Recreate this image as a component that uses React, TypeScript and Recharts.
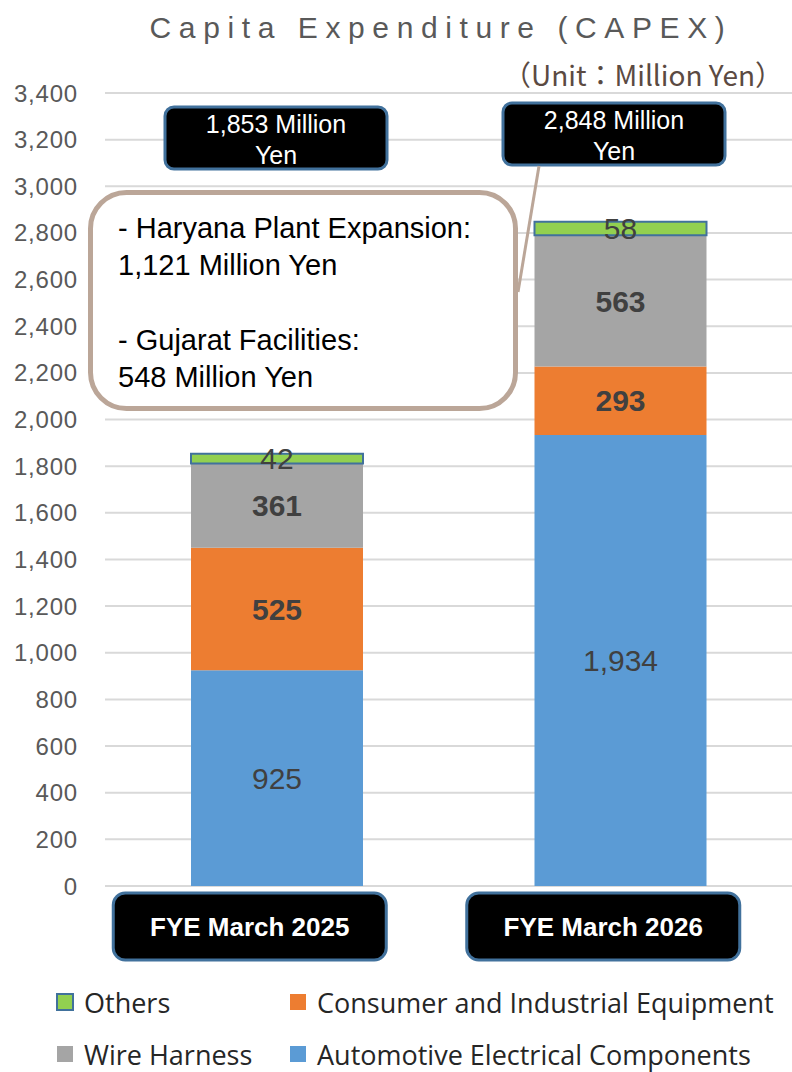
import { BarChart, Bar, XAxis, YAxis, CartesianGrid, LabelList } from 'recharts'

const CATEGORIES = ['FYE March 2025', 'FYE March 2026']
const AUTOMOTIVE = [925, 1934]
const CONSUMER = [525, 293]
const WIRE_HARNESS = [361, 563]
const OTHERS = [42, 58]
const Y_TICKS = [0, 200, 400, 600, 800, 1000, 1200, 1400, 1600, 1800, 2000, 2200, 2400, 2600, 2800, 3000, 3200, 3400]

const NOTE_LINES = [
  '- Haryana Plant Expansion:',
  '1,121 Million Yen',
  '',
  '- Gujarat Facilities:',
  '548 Million Yen',
]

const LEGEND = [
  { name: 'Others', color: '#92D050', border: '#41719C' },
  { name: 'Consumer and Industrial Equipment', color: '#ED7D31' },
  { name: 'Wire Harness', color: '#A5A5A5' },
  { name: 'Automotive Electrical Components', color: '#5B9BD5' },
]

const data = CATEGORIES.map((c, i) => ({
  name: c,
  automotive: AUTOMOTIVE[i],
  consumer: CONSUMER[i],
  wire: WIRE_HARNESS[i],
  others: OTHERS[i],
}))

const totals = CATEGORIES.map((_, i) => AUTOMOTIVE[i] + CONSUMER[i] + WIRE_HARNESS[i] + OTHERS[i])

const SANS = '"Liberation Sans", Arial, sans-serif'
const fmt = (v: any) => Number(v).toLocaleString('en-US')

function CategoryTick(props: any) {
  const { x, y, payload, index } = props
  const shift = index === 0 ? -27 : -17
  const w = 273
  const h = 67
  const cx = x + shift
  return (
    <g>
      <rect x={cx - w / 2} y={y + 7} width={w} height={h} rx={12} fill="#000" stroke="#41719C" strokeWidth={3} />
      <text x={cx} y={y + 7 + h / 2} textAnchor="middle" dominantBaseline="central"
        fill="#fff" fontWeight="bold" fontSize={26} fontFamily={SANS}>
        {payload.value}
      </text>
    </g>
  )
}

function TotalBox({ x, y, total }: { x: number, y: number, total: number }) {
  const w = 222
  const h = 62
  return (
    <g>
      <rect x={x} y={y} width={w} height={h} rx={9} fill="#000" stroke="#41719C" strokeWidth={3} />
      <text x={x + w / 2} y={y + 17} textAnchor="middle" dominantBaseline="central" fill="#fff" fontSize={25} fontFamily={SANS}>
        {fmt(total)} Million
      </text>
      <text x={x + w / 2} y={y + 48} textAnchor="middle" dominantBaseline="central" fill="#fff" fontSize={25} fontFamily={SANS}>
        Yen
      </text>
    </g>
  )
}

export default function App() {
  return (
    <div style={{ position: 'absolute', left: 0, top: 0, width: 792, height: 1072, background: '#fff', overflow: 'hidden' }}>
      <BarChart width={792} height={1072} data={data} margin={{ top: 93, right: 0, bottom: 0, left: 0 }} barSize={172}>
        <CartesianGrid horizontal vertical={false} stroke="#d9d9d9" strokeWidth={2} />
        <XAxis dataKey="name" height={186} axisLine={false} tickLine={false} tickSize={0} tickMargin={0}
          tick={<CategoryTick />} interval={0} />
        <YAxis width={105} domain={[0, 3400]} ticks={Y_TICKS} axisLine={false} tickLine={false}
          tickSize={0} tickMargin={27} tickFormatter={fmt}
          tick={{ fill: '#595959', fontSize: 24, fontFamily: SANS, letterSpacing: 0.8 }} />
        <Bar dataKey="automotive" stackId="a" fill="#5B9BD5" isAnimationActive={false}>
          <LabelList dataKey="automotive" position="center" formatter={fmt}
            fill="#404040" fontSize={30} fontFamily={SANS} />
        </Bar>
        <Bar dataKey="consumer" stackId="a" fill="#ED7D31" isAnimationActive={false}>
          <LabelList dataKey="consumer" position="center" formatter={fmt}
            fill="#404040" fontSize={30} fontWeight="bold" fontFamily={SANS} />
        </Bar>
        <Bar dataKey="wire" stackId="a" fill="#A5A5A5" isAnimationActive={false}>
          <LabelList dataKey="wire" position="center" formatter={fmt}
            fill="#404040" fontSize={30} fontWeight="bold" fontFamily={SANS} />
        </Bar>
        <Bar dataKey="others" stackId="a" fill="#92D050" stroke="#41719C" strokeWidth={2} isAnimationActive={false}>
          <LabelList dataKey="others" position="center" formatter={fmt}
            fill="#404040" fontSize={30} fontFamily={SANS} />
        </Bar>
      </BarChart>

      <svg width={792} height={1072} style={{ position: 'absolute', left: 0, top: 0, pointerEvents: 'none' }}>
        <text x={441} y={27} textAnchor="middle" dominantBaseline="central" fill="#595959"
          fontSize={30} letterSpacing={7.6} fontFamily={SANS}>
          Capita Expenditure (CAPEX)
        </text>
        <text x={783} y={74} textAnchor="end" dominantBaseline="central" fill="#5B4A42"
          fontSize={28} fontFamily={'"Noto Sans CJK JP", sans-serif'}>
          （Unit：Million Yen）
        </text>

        <TotalBox x={165} y={107} total={totals[0]} />
        <TotalBox x={503} y={103} total={totals[1]} />

        <line x1={539} y1={166} x2={518} y2={292} stroke="#BBA698" strokeWidth={3} />
        <rect x={90.5} y={192.5} width={425} height={216} rx={36} fill="#fff" stroke="#BBA698" strokeWidth={5} />
        {NOTE_LINES.map((line, i) => (
          <text key={i} x={118} y={228 + i * 37.3} dominantBaseline="central" fill="#000"
            fontSize={29} fontFamily={SANS}>
            {line}
          </text>
        ))}

        {LEGEND.map((item, i) => {
          const col = i % 2
          const row = Math.floor(i / 2)
          const sx = col === 0 ? 57 : 290
          const cy = row === 0 ? 1002 : 1054
          return (
            <g key={item.name}>
              <rect x={sx} y={cy - 8} width={16} height={16} fill={item.color}
                stroke={item.border ?? 'none'} strokeWidth={item.border ? 2 : 0} />
              <text x={sx + 27} y={cy} dominantBaseline="central" fill="#262626"
                fontSize={27} fontFamily={'"Open Sans", sans-serif'}>
                {item.name}
              </text>
            </g>
          )
        })}
      </svg>
    </div>
  )
}
